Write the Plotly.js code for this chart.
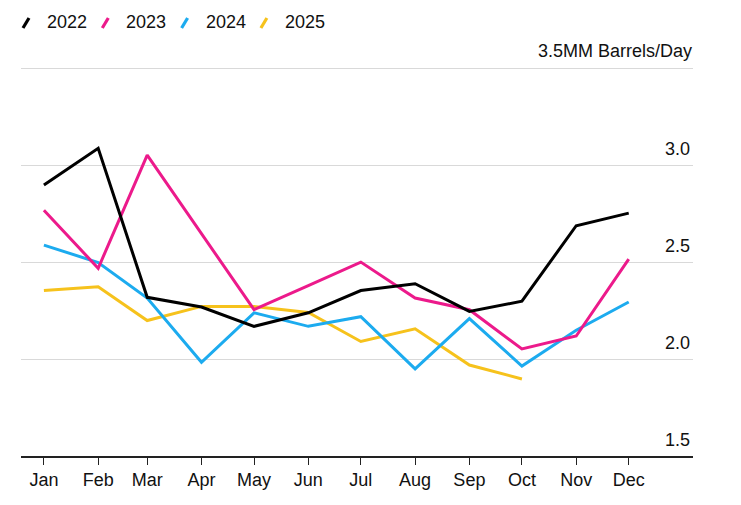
<!DOCTYPE html>
<html>
<head>
<meta charset="utf-8">
<script src="https://cdn.plot.ly/plotly-3.0.1.min.js"></script>
<style>html,body{margin:0;padding:0;background:#fff;}#chart{width:741px;height:505px;}</style>
</head>
<body>
<div id="chart"></div>
<script>
// ---- data ----
const months = ['Jan','Feb','Mar','Apr','May','Jun','Jul','Aug','Sep','Oct','Nov','Dec'];
const monthDates = ['2022-01-01','2022-02-01','2022-03-01','2022-04-01','2022-05-01','2022-06-01','2022-07-01','2022-08-01','2022-09-01','2022-10-01','2022-11-01','2022-12-01'];
const seriesNames = ['2022','2023','2024','2025'];
const y2022 = [2.90, 3.09, 2.32, 2.27, 2.17, 2.24, 2.355, 2.39, 2.247, 2.30, 2.69, 2.755];
const y2023 = [2.77, 2.47, 3.055, 2.65, 2.256, 2.38, 2.502, 2.316, 2.256, 2.053, 2.12, 2.517];
const y2024 = [2.59, 2.50, 2.316, 1.984, 2.24, 2.17, 2.22, 1.95, 2.21, 1.965, 2.15, 2.296];
const y2025 = [2.355, 2.375, 2.20, 2.273, 2.273, 2.242, 2.092, 2.157, 1.97, 1.898];
const yTickVals = [1.5, 2.0, 2.5, 3.0, 3.5];
const yTickText = ['1.5', '2.0', '2.5', '3.0', ''];
const unitLabel = '3.5MM Barrels/Day';
const unitValue = 3.5;

const colors = {'2022':'#000000','2023':'#ec1a8b','2024':'#1cabef','2025':'#f6c21c'};
const values = {'2022':y2022,'2023':y2023,'2024':y2024,'2025':y2025};

const FONT = 'Liberation Sans, Arial, Helvetica, sans-serif';
const FS = 18;
const drawOrder = ['2025','2024','2023','2022'];
const traces = drawOrder.map(n => ({
  type:'scatter', mode:'lines', name:n,
  x: monthDates.slice(0, values[n].length),
  y: values[n],
  line:{color:colors[n], width:3},
  showlegend:false, hoverinfo:'skip'
}));

// geometry
const W = 741, H = 505, mL = 21, mR = 48, mB = 49;
const yTop = 3.66;
const pxPerUnit = 193.5;
const mT = Math.round(69 - (yTop - 3.5) * pxPerUnit);
const pw = W - mL - mR, ph = H - mT - mB;
const px2x = p => (p - mL) / pw;
const py2y = p => (H - mB - p) / ph;

// legend drawn as slash shapes + text annotations
const annotations = seriesNames.map((n, i) => ({
  xref:'paper', yref:'paper',
  x: px2x(45 + i*79.3), y: py2y(22),
  xanchor:'left', yanchor:'middle', showarrow:false,
  text:n,
  font:{family:FONT, size:FS, color:'#111'}
}));
annotations.push({
  xref:'paper', yref:'y', x:1, y:unitValue,
  xanchor:'right', yanchor:'middle', yshift:18, xshift:1,
  showarrow:false, text:unitLabel,
  font:{family:FONT, size:FS, color:'#111'}
});
const shapes = seriesNames.map((n, i) => ({
  type:'line', xref:'paper', yref:'paper',
  x0: px2x(23 + i*79.3), y0: py2y(28),
  x1: px2x(29 + i*79.3), y1: py2y(18),
  line:{color:colors[n], width:3.2}
}));

const layout = {
  width:W, height:H,
  margin:{l:mL, r:mR, t:mT, b:mB, pad:0},
  paper_bgcolor:'#fff', plot_bgcolor:'#fff',
  font:{family:FONT, size:FS, color:'#111'},
  xaxis:{
    type:'date',
    range:['2021-12-18 22:00','2023-01-06 17:00'],
    tickvals: monthDates, ticktext: months,
    ticks:'outside', ticklen:7, tickwidth:1, tickcolor:'#222',
    showline:true, linecolor:'#222', linewidth:1.5,
    showgrid:false, zeroline:false,
    tickfont:{family:FONT, size:FS, color:'#111'}
  },
  yaxis:{
    range:[1.5, yTop], side:'right',
    tickvals:yTickVals, ticktext:yTickText,
    ticklabelposition:'inside top',
    ticklabelshift: -4,
    ticks:'', showline:false, zeroline:false,
    showgrid:true, gridcolor:'#d9d9d9', gridwidth:1,
    tickfont:{family:FONT, size:FS, color:'#111'}
  },
  annotations: annotations,
  shapes: shapes,
  showlegend:false
};

Plotly.newPlot('chart', traces, layout, {displayModeBar:false, staticPlot:true});
</script>
</body>
</html>
